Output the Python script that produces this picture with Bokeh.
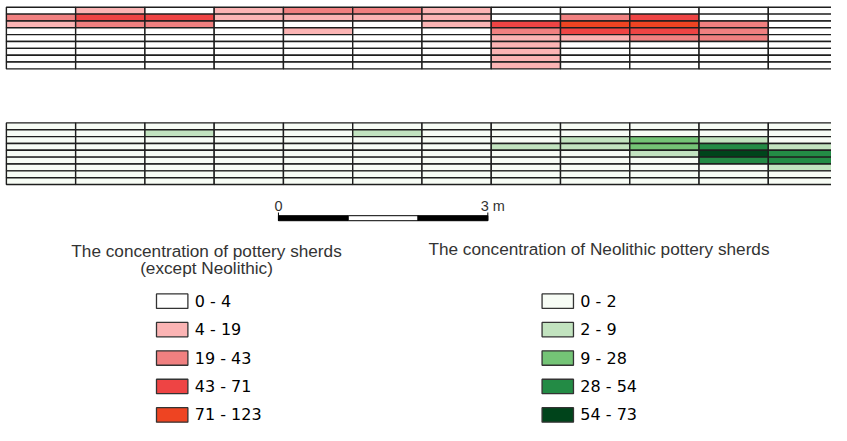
from bokeh.plotting import figure
from bokeh.models import Range1d, ColumnDataSource
from bokeh.embed import file_html
from bokeh.resources import INLINE
from bokeh.core.properties import value

# ---- data ----
other_title = ["The concentration of pottery sherds", "(except Neolithic)"]
other_labels = ["0 - 4", "4 - 19", "19 - 43", "43 - 71", "71 - 123"]
other_colors = ["#ffffff", "#fbb4b4", "#f08080", "#ee4444", "#ee4422"]

neo_title = ["The concentration of Neolithic pottery sherds"]
neo_labels = ["0 - 2", "2 - 9", "9 - 28", "28 - 54", "54 - 73"]
neo_colors = ["#f7fcf5", "#c2e3bf", "#74c476", "#238b45", "#00441b"]

# class index per cell (rows top -> bottom, 12 columns)
other_grid = [
    [0, 1, 0, 1, 2, 2, 1, 0, 0, 0, 0, 0],
    [2, 3, 3, 1, 1, 1, 1, 0, 2, 3, 0, 0],
    [1, 2, 2, 0, 0, 0, 1, 3, 4, 4, 2, 0],
    [0, 0, 0, 0, 1, 0, 0, 2, 3, 3, 2, 0],
    [0, 0, 0, 0, 0, 0, 0, 1, 1, 2, 2, 0],
    [0, 0, 0, 0, 0, 0, 0, 1, 0, 0, 0, 0],
    [0, 0, 0, 0, 0, 0, 0, 1, 0, 0, 0, 0],
    [0, 0, 0, 0, 0, 0, 0, 1, 0, 0, 0, 0],
    [0, 0, 0, 0, 0, 0, 0, 1, 0, 0, 0, 0],
]
neo_grid = [
    [0, 0, 0, 0, 0, 0, 0, 0, 0, 0, 0, 0],
    [0, 0, 1, 0, 0, 1, 0, 0, 0, 0, 0, 0],
    [0, 0, 0, 0, 0, 0, 0, 0, 1, 2, 1, 0],
    [0, 0, 0, 0, 0, 0, 0, 1, 1, 2, 3, 1],
    [0, 0, 0, 0, 0, 0, 0, 0, 0, 1, 4, 3],
    [0, 0, 0, 0, 0, 0, 0, 0, 0, 0, 3, 3],
    [0, 0, 0, 0, 0, 0, 0, 0, 0, 0, 0, 1],
    [0, 0, 0, 0, 0, 0, 0, 0, 0, 0, 0, 0],
    [0, 0, 0, 0, 0, 0, 0, 0, 0, 0, 0, 0],
]
scale_labels = ["0", "3 m"]

# ---- layout constants (reference-pixel units, scaled to figure by ranges) ----
X0, CW = 6.0, 70.6
RH = 7.11
TOP1, TOP2 = 7.0, 127.0
TFS = "17.2px"
LFS = "16px"

p = figure(width=831, height=425, output_backend="svg", toolbar_location=None,
           x_range=Range1d(0, 847), y_range=Range1d(441, 0),
           min_border=0, outline_line_color=None, background_fill_color="white")
p.axis.visible = False
p.grid.visible = False


def draw_grid(grid, colors, top):
    l, r, t, b, c = [], [], [], [], []
    for i, row in enumerate(grid):
        for j, k in enumerate(row):
            l.append(X0 + j * CW)
            r.append(X0 + (j + 1) * CW)
            t.append(top + i * RH)
            b.append(top + (i + 1) * RH)
            c.append(colors[k])
    src = ColumnDataSource(dict(left=l, right=r, top=t, bottom=b, color=c))
    p.quad(left="left", right="right", top="top", bottom="bottom", source=src,
           fill_color="color", line_color="#1e1e1e", line_width=1.4)


draw_grid(other_grid, other_colors, TOP1)
draw_grid(neo_grid, neo_colors, TOP2)

# ---- scale bar ----
sb_x0, sb_x1 = 283.3, 496.7
seg = (sb_x1 - sb_x0) / 3
p.quad(left=[sb_x0 + i * seg for i in range(3)], right=[sb_x0 + (i + 1) * seg for i in range(3)],
       top=223.3, bottom=228.5, fill_color=["black", "white", "black"], line_color="black", line_width=1)
p.segment(x0=[sb_x0, sb_x1], x1=[sb_x0, sb_x1], y0=[220, 220], y1=[228.5, 228.5],
          line_color="black", line_width=1)
p.text(x=[sb_x0, 489.5], y=[213.5, 213.5], text=scale_labels, text_align=["center", "left"],
       text_baseline="middle", text_font=value("Liberation Sans"), text_font_size="14.5px",
       text_color="#333333")


# ---- legends ----
def draw_legend(title_lines, title_x, title_y0, labels, colors, box_x0):
    p.text(x=[title_x] * len(title_lines), y=[title_y0 + 18.5 * i for i in range(len(title_lines))],
           text=title_lines, text_align="center", text_baseline="middle",
           text_font=value("Liberation Sans"), text_font_size=TFS, text_color="#333333")
    ys = [312 + 29.5 * i for i in range(len(labels))]
    p.quad(left=box_x0, right=box_x0 + 32, top=[y - 7.5 for y in ys], bottom=[y + 7.5 for y in ys],
           fill_color=colors, line_color="#333333", line_width=1.3)
    p.text(x=[box_x0 + 39] * len(labels), y=ys, text=labels, text_align="left",
           text_baseline="middle", text_font=value("DejaVu Sans"), text_font_size=LFS,
           text_color="black")


draw_legend(other_title, 210, 259.5, other_labels, other_colors, 159)
draw_legend(neo_title, 610, 258, neo_labels, neo_colors, 552)

open("out.html", "w").write(file_html(p, INLINE))
